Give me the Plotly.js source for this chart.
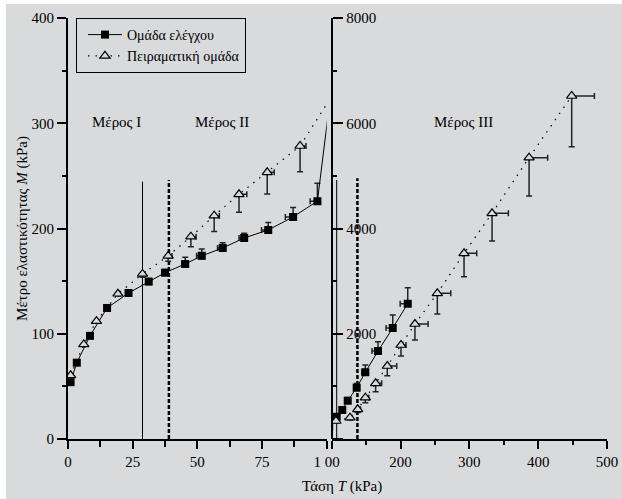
<!DOCTYPE html>
<html>
<head>
<meta charset="utf-8">
<script src="https://cdn.plot.ly/plotly-3.0.1.min.js"></script>
<style>
  html, body { margin: 0; padding: 0; background: #ffffff; }
  #chart { position: absolute; left: 6px; top: 4px; width: 616px; height: 495px; }
</style>
</head>
<body>
<div id="chart"></div>
<script>
// ---- Data ----
// Control group (squares): tension T (kPa), modulus M (kPa), errors
const ctrlT = [1.0, 3.4, 8.5, 15.1, 23.4, 31.2, 37.5, 45.3, 51.7, 59.8, 68.1, 77.4, 87.0, 96.4,
               107.3, 115.4, 123.3, 136.3, 148.9, 167.3, 188.7, 210.5];
const ctrlM = [54, 72.5, 98, 124.5, 138.7, 149.5, 158, 166.3, 174, 181.5, 191, 198.6, 211, 226,
               424, 551, 728, 975, 1267, 1672, 2109, 2571];
const ctrlErrM = [1, 1, 1, 2, 2, 3, 3, 6.4, 6.6, 5, 4.5, 7, 9, 17,
                  40, 40, 60, 80, 140, 177, 247, 304];
const ctrlErrT = [0.3, 0.3, 0.5, 0.5, 0.8, 1, 1, 1.3, 2, 2, 2, 2.6, 3, 2.8,
                  2, 2, 3, 3, 5, 8.7, 9.7, 11];

// Experimental group (triangles)
const expT = [1.0, 6.1, 11.0, 19.3, 28.8, 38.7, 47.5, 56.5, 66.1, 77.0, 89.7,
              106.2, 126.6, 137.8, 148.9, 163.9, 180.8, 200.7, 221, 253.5, 292.3, 333, 386.8, 448.7];
const expM = [60.5, 89.9, 112, 138, 156.8, 173.9, 192.2, 212.2, 232.5, 253.4, 278.4,
              342, 405, 564, 785, 1058, 1387, 1786, 2185, 2768, 3529, 4289, 5345, 6518];
const expErrM = [1, 1, 2, 2, 3, 5, 9.6, 15, 17, 20.6, 24.4,
                 30, 40, 60, 95, 160, 184, 209, 304, 393, 445, 526, 728, 963];
const expErrT = [0.3, 0.5, 0.5, 0.8, 1, 1.5, 2, 2, 3, 2.7, 2.3,
                 2, 3, 4, 5, 8.7, 13.7, 7.3, 19, 19.5, 18.4, 23.7, 27, 33];

// Boundary lines between parts
const partLeftT = [28.8, 39.0];      // solid, dashed
const partLeftTop = [244.5, 246];
const partRightT = [107.3, 137.4];   // solid, dashed
const partRightTop = [4922, 4954];

// Labels
const seriesNames = ['Ομάδα ελέγχου', 'Πειραματική ομάδα'];
const partLabels = ['Μέρος I', 'Μέρος II', 'Μέρος III'];
const partLabelT = [18.7, 59.7, 291];
const partLabelM = [301, 301, 6030];
const leftXTicks = [0, 25, 50, 75, 100];
const leftXTickText = ['0', '25', '50', '75', '1 00'];
const rightXTicks = [100, 200, 300, 400, 500];
const rightXTickText = ['', '200', '300', '400', '500'];
const rightYTicks = [0, 2000, 4000, 6000, 8000];
const rightYTickText = ['', '2000', '4000', '6000', '8000'];

// ---- Styling ----
const BG = '#d9dadc';
const FONT = 'Liberation Serif, Times New Roman, serif';
const zeros = a => a.map(() => 0);

function ctrlTrace(xa, ya, show) {
  return {
    type: 'scatter', mode: 'lines+markers', name: seriesNames[0],
    x: ctrlT, y: ctrlM, xaxis: xa, yaxis: ya, showlegend: show,
    line: { color: '#000', width: 1 },
    marker: { symbol: 'square', size: 8, color: '#000' },
    error_y: { type: 'data', symmetric: false, array: ctrlErrM, arrayminus: zeros(ctrlErrM),
               color: '#222', thickness: 1.5, width: 3 },
    error_x: { type: 'data', symmetric: false, array: zeros(ctrlErrT), arrayminus: ctrlErrT,
               color: '#222', thickness: 1.5, width: 3 }
  };
}
function expTrace(xa, ya, show) {
  return {
    type: 'scatter', mode: 'lines+markers', name: seriesNames[1],
    x: expT, y: expM, xaxis: xa, yaxis: ya, showlegend: show,
    line: { color: '#000', width: 1.2, dash: '1.5px,6px' },
    marker: { symbol: 'triangle-up', size: 9, color: BG, line: { color: '#000', width: 1.2 } },
    error_y: { type: 'data', symmetric: false, array: zeros(expErrM), arrayminus: expErrM,
               color: '#222', thickness: 1.5, width: 3 },
    error_x: { type: 'data', symmetric: false, array: expErrT, arrayminus: zeros(expErrT),
               color: '#222', thickness: 1.5, width: 3 }
  };
}
function vline(t, top, xa, ya, dashed) {
  return {
    type: 'scatter', mode: 'lines', x: [t, t], y: [0, top], xaxis: xa, yaxis: ya,
    showlegend: false, hoverinfo: 'skip',
    line: dashed ? { color: '#000', width: 2.5, dash: '4px,2px' } : { color: '#000', width: 1 }
  };
}

const traces = [
  vline(partLeftT[0], partLeftTop[0], 'x', 'y', false),
  vline(partLeftT[1], partLeftTop[1], 'x', 'y', true),
  vline(partRightT[0], partRightTop[0], 'x2', 'y2', false),
  vline(partRightT[1], partRightTop[1], 'x2', 'y2', true),
  ctrlTrace('x', 'y', true),
  expTrace('x', 'y', true),
  ctrlTrace('x2', 'y2', false),
  expTrace('x2', 'y2', false)
];

const tickFont = { family: FONT, size: 15, color: '#000' };
const rightStart = 0.4892;

const layout = {
  width: 616, height: 495,
  margin: { l: 62, r: 15, t: 14, b: 60 },
  paper_bgcolor: BG, plot_bgcolor: BG,
  font: { family: FONT, size: 15, color: '#000' },
  showlegend: true,
  legend: {
    x: 0.0148, y: 1, xanchor: 'left', yanchor: 'top',
    bgcolor: BG, bordercolor: '#000', borderwidth: 1,
    font: { family: FONT, size: 14, color: '#000' },
    tracegroupgap: 0, itemwidth: 34, indentation: 6
  },
  xaxis: {
    domain: [0, 0.48], range: [0, 100], anchor: 'y',
    showgrid: false, zeroline: false, showline: true, linecolor: '#000', linewidth: 2,
    ticks: 'outside', ticklen: 8, tickwidth: 2, tickcolor: '#000',
    tickmode: 'array', tickvals: leftXTicks, ticktext: leftXTickText,
    minor: { dtick: 12.5, tick0: 0, ticks: 'outside', ticklen: 6, tickwidth: 2, tickcolor: '#000', showgrid: false },
    tickfont: tickFont
  },
  yaxis: {
    domain: [0, 1], range: [0, 400], anchor: 'x',
    showgrid: false, zeroline: false, showline: true, linecolor: '#000', linewidth: 2,
    ticks: 'outside', ticklen: 9, tickwidth: 2, tickcolor: '#000',
    tick0: 0, dtick: 100,
    minor: { dtick: 50, ticks: 'outside', ticklen: 4, tickwidth: 2, tickcolor: '#000', showgrid: false },
    tickfont: tickFont,
    title: { text: 'Μέτρο ελαστικότητας <i>M</i> (kPa)', font: { family: FONT, size: 15, color: '#000' }, standoff: 0 }
  },
  xaxis2: {
    domain: [rightStart, 1], range: [100, 500], anchor: 'y2',
    showgrid: false, zeroline: false, showline: true, linecolor: '#000', linewidth: 2,
    ticks: 'outside', ticklen: 8, tickwidth: 2, tickcolor: '#000',
    tickmode: 'array', tickvals: rightXTicks, ticktext: rightXTickText,
    minor: { dtick: 50, tick0: 100, ticks: 'outside', ticklen: 4, tickwidth: 2, tickcolor: '#000', showgrid: false },
    tickfont: tickFont
  },
  yaxis2: {
    domain: [0, 1], range: [0, 8000], anchor: 'free', position: rightStart, side: 'right',
    showgrid: false, zeroline: false, showline: true, linecolor: '#000', linewidth: 2.5,
    ticks: 'outside', ticklen: 10, tickwidth: 2, tickcolor: '#000',
    tickmode: 'array', tickvals: rightYTicks, ticktext: rightYTickText,
    minor: { dtick: 1000, tick0: 0, ticks: 'outside', ticklen: 4, tickwidth: 2, tickcolor: '#000', showgrid: false },
    tickfont: tickFont
  },
  annotations: [
    { text: partLabels[0], x: partLabelT[0], y: partLabelM[0], xref: 'x', yref: 'y', showarrow: false, font: { family: FONT, size: 15 } },
    { text: partLabels[1], x: partLabelT[1], y: partLabelM[1], xref: 'x', yref: 'y', showarrow: false, font: { family: FONT, size: 15 } },
    { text: partLabels[2], x: partLabelT[2], y: partLabelM[2], xref: 'x2', yref: 'y2', showarrow: false, font: { family: FONT, size: 15 } },
    { text: 'Τάση <i>T</i> (kPa)', x: 0.508, y: -0.112, xref: 'paper', yref: 'paper', showarrow: false,
      xanchor: 'center', yanchor: 'middle', font: { family: FONT, size: 15 } }
  ]
};

Plotly.newPlot('chart', traces, layout, { displayModeBar: false, staticPlot: true });
</script>
</body>
</html>
